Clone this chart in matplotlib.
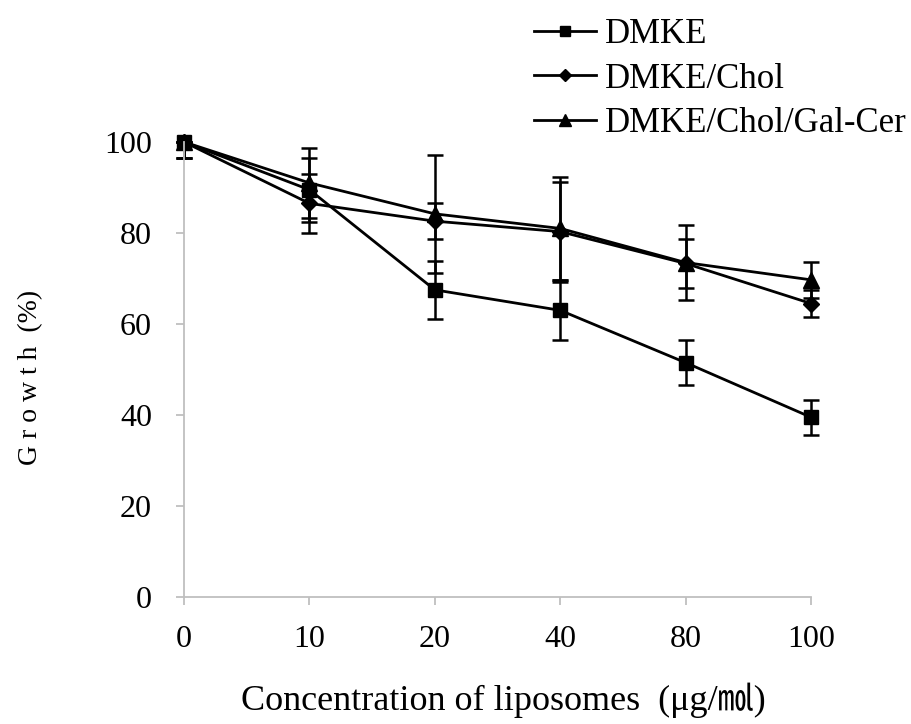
import matplotlib as mpl
from matplotlib import pyplot as plt
from matplotlib.lines import Line2D
import numpy as np

mpl.rcParams['font.family'] = ['Liberation Serif', 'Noto Sans CJK KR', 'DejaVu Sans']

# Data
concentrations = ['0', '10', '20', '40', '80', '100']

dmke = [100, 89.5, 67.5, 63.0, 51.5, 39.5]
dmke_err = [3.5, 7.0, 6.4, 6.6, 5.0, 3.8]

dmke_chol = [100, 86.5, 82.6, 80.3, 73.3, 64.5]
dmke_chol_err = [3.5, 6.5, 4.0, 11.0, 5.3, 3.0]

dmke_chol_gal = [100, 91.0, 84.2, 81.0, 73.5, 69.7]
dmke_chol_gal_err = [3.5, 7.7, 13.0, 11.3, 8.2, 3.9]

series = [
    ('DMKE', dmke, dmke_err, 's', 10),
    ('DMKE/Chol', dmke_chol, dmke_chol_err, 'D', 8.5),
    ('DMKE/Chol/Gal-Cer', dmke_chol_gal, dmke_chol_gal_err, '^', 11),
]

fig = plt.figure(figsize=(9.12, 7.24), dpi=100)
ax = fig.add_axes([0.2018, 0.1754, 0.6875, 0.6285])

x = np.arange(len(concentrations))
handles = []
for label, values, errors, marker, size in series:
    # upper bar above 100 % is cut off by the plot area
    upper = [min(e, 100 - v) for v, e in zip(values, errors)]
    ax.errorbar(x, values, yerr=[errors, upper], color='black', ecolor='black',
                marker=marker, markersize=size, linewidth=2, elinewidth=1.8,
                capsize=6, capthick=1.8, clip_on=False)
    handles.append(Line2D([], [], color='black', marker=marker, linewidth=2,
                          markersize=size * 0.75, label=label))

ax.set_xlim(0, 5)
ax.set_ylim(0, 100)
ax.set_xticks(x)
ax.set_xticklabels(concentrations)
ax.set_yticks(np.arange(0, 101, 20))

for side in ['top', 'right']:
    ax.spines[side].set_visible(False)
for side in ['left', 'bottom']:
    ax.spines[side].set_color('#bfbfbf')
    ax.spines[side].set_linewidth(1.3)

ax.tick_params(axis='both', colors='#bfbfbf', labelcolor='black', labelsize=23,
               length=6, width=1.3, direction='out')
ax.tick_params(axis='y', pad=17)
ax.tick_params(axis='x', pad=14)

fig.text(0.034, 0.478, 'G r o w t h  (%)', rotation=90, fontsize=20,
         ha='center', va='center')
fig.text(0.552, 0.033, 'Concentration of liposomes  (\u03bcg/\u33d6)', fontsize=26,
         ha='center', va='center')

# Legend
fig.legend(handles=handles, loc='upper left', bbox_to_anchor=(0.585, 0.975),
           frameon=False, fontsize=25, handlelength=1.8, handletextpad=0.25,
           labelspacing=0.33, borderpad=0, borderaxespad=0)

plt.savefig('out.png', dpi=100)
